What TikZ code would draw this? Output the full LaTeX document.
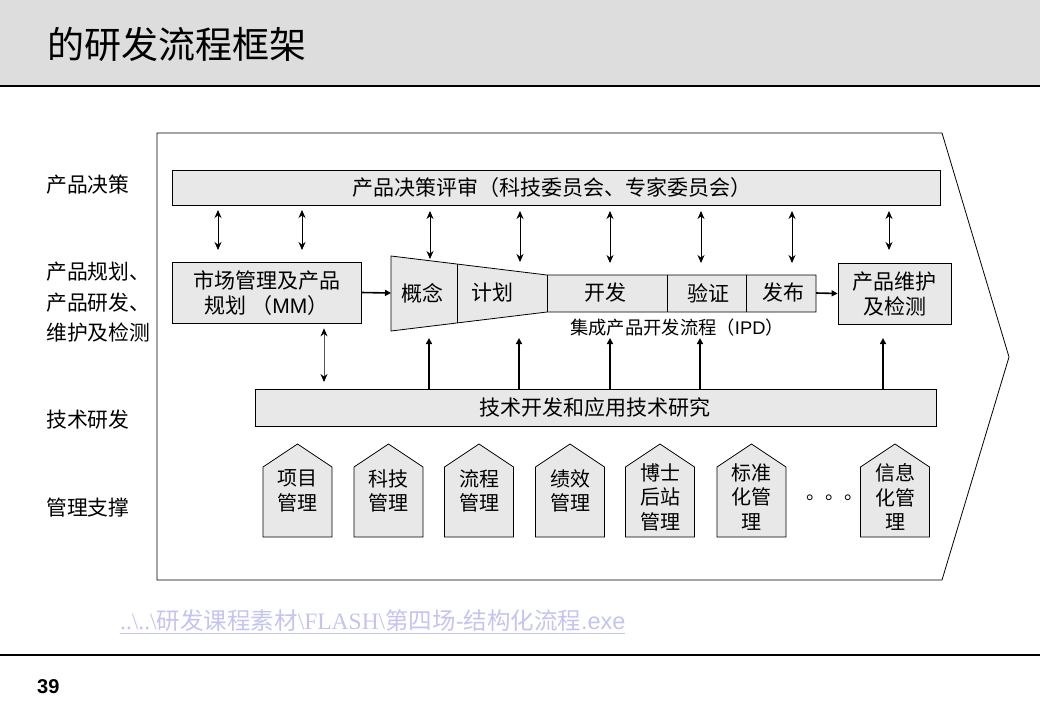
\documentclass[tikz,border=0pt]{standalone}
\usepackage{fontspec}
\setmainfont{Noto Sans CJK SC}
\newfontfamily\arial{Liberation Sans}
\newfontfamily\tnr{Liberation Serif}
\usetikzlibrary{arrows.meta}
\definecolor{boxfill}{HTML}{E8E8E8}
\definecolor{headfill}{HTML}{DDDDDD}
\definecolor{linkcol}{HTML}{C4C4F0}
\definecolor{thingray}{HTML}{555555}
\tikzset{
  box/.style={draw=black, line width=0.8pt, fill=boxfill, inner sep=0pt},
  lbl/.style={anchor=west, align=left, inner sep=0pt, font=\fontsize{20.8}{30.5}\selectfont},
  txt/.style={inner sep=0pt, align=center, font=\fontsize{21}{24.5}\selectfont},
  htext/.style={inner sep=0pt, align=center, font=\fontsize{20}{24.5}\selectfont},
  dbl/.style={{Stealth[length=8pt,width=7pt]}-{Stealth[length=8pt,width=7pt]}, line width=0.9pt},
  dblgray/.style={{Stealth[length=8pt,width=7pt,color=black]}-{Stealth[length=8pt,width=7pt,color=black]}, line width=0.8pt, draw=thingray},
  uparr/.style={-{Triangle[length=6pt,width=6pt]}, line width=1.6pt},
  rarr/.style={-{Triangle[length=6pt,width=6pt]}, line width=1.6pt},
}
\newcommand\mkhouse[4]{%
  \draw[box] (#2-34.5,537) -- (#2-34.5,467) -- (#2,444) -- (#2+34.5,467) -- (#2+34.5,537) -- cycle;
  \node[htext] (#1) at (#2,#4) {#3};}
\begin{document}
\begin{tikzpicture}[x=1pt,y=-1pt]
\useasboundingbox (0,0) rectangle (1040,720);
% header
\fill[headfill] (0,0) rectangle (1040,86);
\draw[line width=1.3pt] (0,86) -- (1040,86);
\node[anchor=west, inner sep=0pt, font=\fontsize{37}{42}\selectfont] (title) at (47,44) {的研发流程框架};
% footer
\draw[line width=1.3pt] (0,655) -- (1040,655);
\node[anchor=west, inner sep=0pt, font=\arial\bfseries\fontsize{20}{20}\selectfont] (pg) at (37,687) {39};
\node[anchor=west, inner sep=0pt, text=linkcol, font=\fontsize{23.5}{26}\selectfont] (link) at (120,622)
  {\underline{{\tnr ..\textbackslash..\textbackslash}研发课程素材{\tnr\textbackslash FLASH\textbackslash}第四场{\arial -}结构化流程{\arial .exe}}};
% big frame
\draw[line width=0.8pt] (157,133) -- (942,133) -- (1009,357) -- (942,580) -- (157,580) -- cycle;
% left labels
\node[lbl] (l1) at (46,185) {产品决策};
\node[lbl] (l2) at (46,302.5) {产品规划、\\产品研发、\\维护及检测};
\node[lbl] (l3) at (46,420) {技术研发};
\node[lbl] (l4) at (46,508) {管理支撑};
% top bar
\node[box, minimum width=768pt, minimum height=35pt] (topbar) at (556,187.5) {};
\node[txt] (toptxt) at (552,187.5) {产品决策评审（科技委员会、专家委员会）};
% MM box
\node[box, minimum width=189pt, minimum height=61pt] (mm) at (266.5,292.5) {};
\node[txt] (mmtxt) at (266.5,293) {市场管理及产品\\规划 （{\arial MM}）};
% maintenance box
\node[box, minimum width=113pt, minimum height=61pt] (maint) at (894.5,293.5) {};
\node[txt] (mttxt) at (894.5,294) {产品维护\\及检测};
% funnel
\draw[box] (391,256) -- (547,275) -- (816,275) -- (816,312) -- (547,312) -- (391,331) -- cycle;
\draw[line width=0.8pt] (457,264) -- (457,323);
\draw[line width=0.8pt] (547,275) -- (547,312);
\draw[line width=0.8pt] (667,275) -- (667,312);
\draw[line width=0.8pt] (746,275) -- (746,312);
\coordinate (fl) at (391,293);
\coordinate (fr) at (816,293);
\node[txt] (gn) at (422,293) {概念};
\node[txt] (jh) at (492,293) {计划};
\node[txt] (kf) at (605,293) {开发};
\node[txt] (yz) at (708,293) {验证};
\node[txt] (fb) at (783,293) {发布};
\node[inner sep=0pt, font=\fontsize{18.3}{20}\selectfont] (ipd) at (677,328) {集成产品开发流程（{\arial IPD}）};
\draw[rarr] (mm.east) -- (fl);
\draw[rarr] (fr) -- (maint.west);
% double arrows between top bar and middle row
\foreach \x/\ya/\yb [count=\i] in {218/210/250, 302/210/250, 430/211/259, 520/211/262, 610/211/263, 701/211/263, 792/211/263, 889/211/250}{
  \coordinate (da\i) at (\x,\ya);
  \coordinate (db\i) at (\x,\yb);
  \draw[dbl] (da\i) -- (db\i);
}
% tech bar
\node[box, minimum width=681pt, minimum height=37pt] (tech) at (595.5,407.5) {};
\node[txt] (techtxt) at (595,408) {技术开发和应用技术研究};
% up arrows
\foreach \x [count=\i] in {429,519,610,700,883}{
  \coordinate (ua\i) at (\x,389);
  \coordinate (ub\i) at (\x,338);
  \draw[uparr] (ua\i) -- (ub\i);
}
\coordinate (mmdown) at (324,382);
\draw[dblgray] ([yshift=-5pt]mm.south -| mmdown) -- (mmdown);
% houses
\mkhouse{h1}{297.5}{项目\\管理}{491}
\mkhouse{h2}{388.5}{科技\\管理}{491}
\mkhouse{h3}{479}{流程\\管理}{491}
\mkhouse{h4}{570}{绩效\\管理}{491}
\mkhouse{h5}{660}{博士\\后站\\管理}{497}
\mkhouse{h6}{751.5}{标准\\化管\\理}{497}
\mkhouse{h7}{895}{信息\\化管\\理}{497}
\node[anchor=base west, inner sep=0pt, font=\fontsize{19}{24}\selectfont] (dots) at (806,499) {。。。};
\end{tikzpicture}
\end{document}
